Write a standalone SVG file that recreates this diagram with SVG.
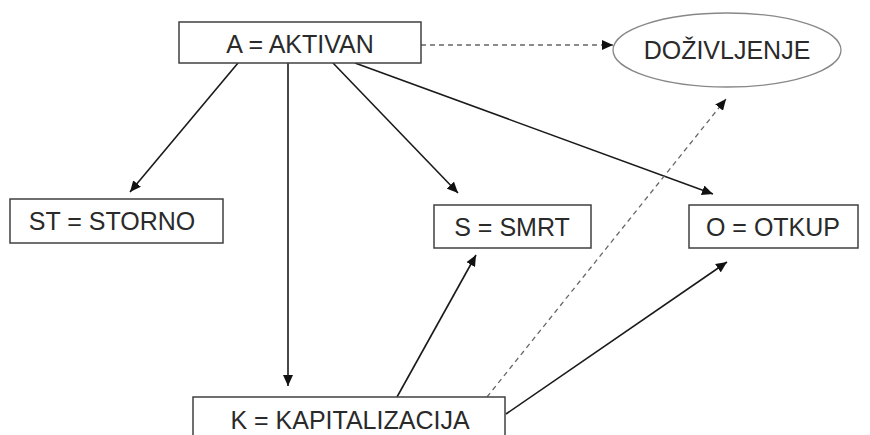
<svg xmlns="http://www.w3.org/2000/svg" width="870" height="435" viewBox="0 0 870 435">
<style>
.box{fill:#fff;stroke:#404040;stroke-width:1.5}
.ell{fill:#fff;stroke:#888;stroke-width:1.3}
.t{font-family:"Liberation Sans",Arial,sans-serif;font-size:25px;fill:#2a2a2a;text-anchor:middle}
.c{fill:none;stroke:#1a1a1a;stroke-width:1.6}
.d{fill:none;stroke:#666;stroke-width:1.3;stroke-dasharray:5 4}
</style>
<defs>
<marker id="ah" markerUnits="userSpaceOnUse" markerWidth="12" markerHeight="10" refX="11" refY="5" orient="auto"><path d="M0,0 L11,5 L0,10 z" fill="#111"/></marker>
</defs>
<rect width="870" height="435" fill="#fff"/>
<g id="connectors">
<line class="c" x1="238" y1="63" x2="130" y2="192" marker-end="url(#ah)"/>
<line class="c" x1="288" y1="63" x2="288" y2="386" marker-end="url(#ah)"/>
<line class="c" x1="333" y1="63" x2="458" y2="193" marker-end="url(#ah)"/>
<line class="c" x1="355" y1="63" x2="713" y2="194" marker-end="url(#ah)"/>
<line class="d" x1="421" y1="45" x2="613" y2="45" marker-end="url(#ah)"/>
<line class="c" x1="397" y1="397" x2="476" y2="255" marker-end="url(#ah)"/>
<line class="c" x1="506" y1="414" x2="727" y2="262" marker-end="url(#ah)"/>
<line class="d" x1="487" y1="397" x2="726" y2="99" marker-end="url(#ah)"/>
</g>
<g id="nodeA"><rect class="box" x="179" y="22" width="242" height="41"/><text class="t" x="300" y="53">A = AKTIVAN</text></g>
<g id="nodeD"><ellipse class="ell" cx="727" cy="50" rx="114" ry="37"/><text class="t" x="727" y="59">DOŽIVLJENJE</text></g>
<g id="nodeST"><rect class="box" x="10" y="199" width="213" height="44"/><text class="t" x="112" y="230">ST = STORNO</text></g>
<g id="nodeS"><rect class="box" x="434" y="205" width="157" height="43"/><text class="t" x="512" y="236">S = SMRT</text></g>
<g id="nodeO"><rect class="box" x="689" y="205" width="169" height="43"/><text class="t" x="773" y="236">O = OTKUP</text></g>
<g id="nodeK"><rect class="box" x="193" y="397" width="312" height="45"/><text class="t" x="350" y="429">K = KAPITALIZACIJA</text></g>
</svg>
